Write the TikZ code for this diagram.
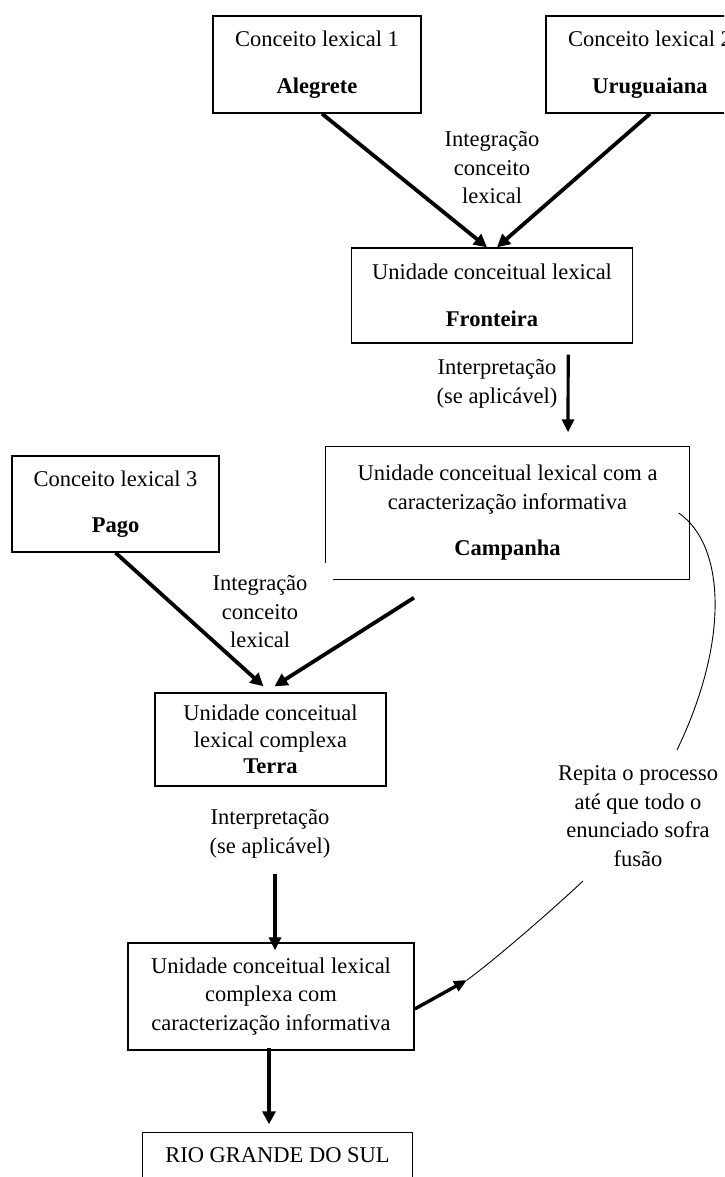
\documentclass[tikz,border=0pt]{standalone}
\usepackage{fontspec}
\setmainfont{Liberation Serif}
\usetikzlibrary{arrows.meta,calc}

\begin{document}
\begin{tikzpicture}[x=1pt,y=-1pt,
  every node/.style={font=\fontsize{22.5}{28.5}\selectfont},
  boxline/.style={line width=1.4pt, line join=miter},
  box/.style={draw, boxline, align=center, inner sep=0pt},
  lbl/.style={align=center, inner sep=0pt},
  bigarr/.style={-{Triangle[length=13pt,width=13pt]}, line width=3.8pt},
  arr/.style={-{Triangle[length=13pt,width=12pt]}, line width=3.2pt},
  loopline/.style={line width=0.9pt}
]
\path[use as bounding box, clip] (0,0) rectangle (724,1177);
\fill[white] (0,0) rectangle (724,1177);

% first two lexical concepts
\node[box, minimum width=208pt, minimum height=97pt] (A) at (317,64.5)
  {Conceito lexical 1\\[18pt]\textbf{Alegrete}};
\node[box, minimum width=208pt, minimum height=97pt] (B) at (650,64.5)
  {Conceito lexical 2\\[18pt]\textbf{Uruguaiana}};

% first integration
\node[box, minimum width=281pt, minimum height=95pt] (C) at (492,295.5)
  {Unidade conceitual lexical\\[18pt]\textbf{Fronteira}};
\node[lbl] (L1) at (492,168) {Integração\\conceito\\lexical};
\draw[bigarr] ([xshift=5pt]A.south) -- ([xshift=-5pt]C.north);
\draw[bigarr] (B.south) -- ([xshift=5pt]C.north);

% interpretation step
\node[box, draw=none, minimum width=363pt, minimum height=132pt] (D) at (507.5,513)
  {Unidade conceitual lexical com a\\caracterização informativa\\[18pt]\textbf{Campanha}};
\draw[boxline] ([xshift=8pt]D.south west) -- (D.south east) -- (D.north east)
  -- (D.north west) -- ([yshift=17pt]D.south west);
\node[lbl] (L2) at (497,384) {Interpretação\\(se aplicável)};
\draw[arr] ([xshift=-65pt,yshift=-11pt]C.south east) -- ([xshift=60.5pt,yshift=14pt]D.north);

% third lexical concept and second integration
\node[box, minimum width=207pt, minimum height=96pt] (E) at (115.5,504)
  {Conceito lexical 3\\[18pt]\textbf{Pago}};
\node[box, minimum width=231pt, minimum height=93pt] (F) at (270.5,739.5)
  {Unidade conceitual\\[-2pt]lexical complexa\\[-2pt]\textbf{Terra}};
\node[lbl] (L3) at (260,612) {Integração\\conceito\\lexical};
\draw[bigarr] (E.south) -- ([xshift=-7pt,yshift=6pt]F.north);
\draw[bigarr] ([xshift=-93.5pt,yshift=-18pt]D.south) -- ([xshift=4pt,yshift=6pt]F.north);

% second interpretation step
\node[lbl] (L4) at (270,834) {Interpretação\\(se aplicável)};
\node[box, minimum width=286pt, minimum height=107pt] (G) at (271,996.5)
  {Unidade conceitual lexical\\complexa com\\caracterização informativa};
\draw[arr] ([xshift=4.5pt,yshift=-87pt]F.south) -- ([xshift=4pt,yshift=-8pt]G.north);

% result
\node[box, draw=none, minimum width=269pt, minimum height=44pt] (H) at (277.5,1155)
  {RIO GRANDE DO SUL};
\draw[boxline] ([yshift=-30pt]H.south west) |- (H.north east) -- ([yshift=-30pt]H.south east);
\draw[bigarr] ([xshift=-2pt,yshift=3pt]G.south) -- ([xshift=-8.5pt,yshift=8pt]H.north);

% repetition loop
\node[lbl] (R) at (638,816) {Repita o processo\\até que todo o\\enunciado sofra\\fusão};
\coordinate (r1) at (677,750);
\coordinate (r2) at (583,881);
\coordinate (j) at (467,980);
\draw[loopline] ([xshift=-11pt]D.east) .. controls (725,545) and (730,640) .. (r1);
\draw[loopline] (r2) .. controls (550,912) and (492,962) .. (j);
\draw[-{Triangle[length=13pt,width=11pt]}, line width=3.4pt] ([yshift=-12.5pt]G.east) -- (j);
\end{tikzpicture}
\end{document}
